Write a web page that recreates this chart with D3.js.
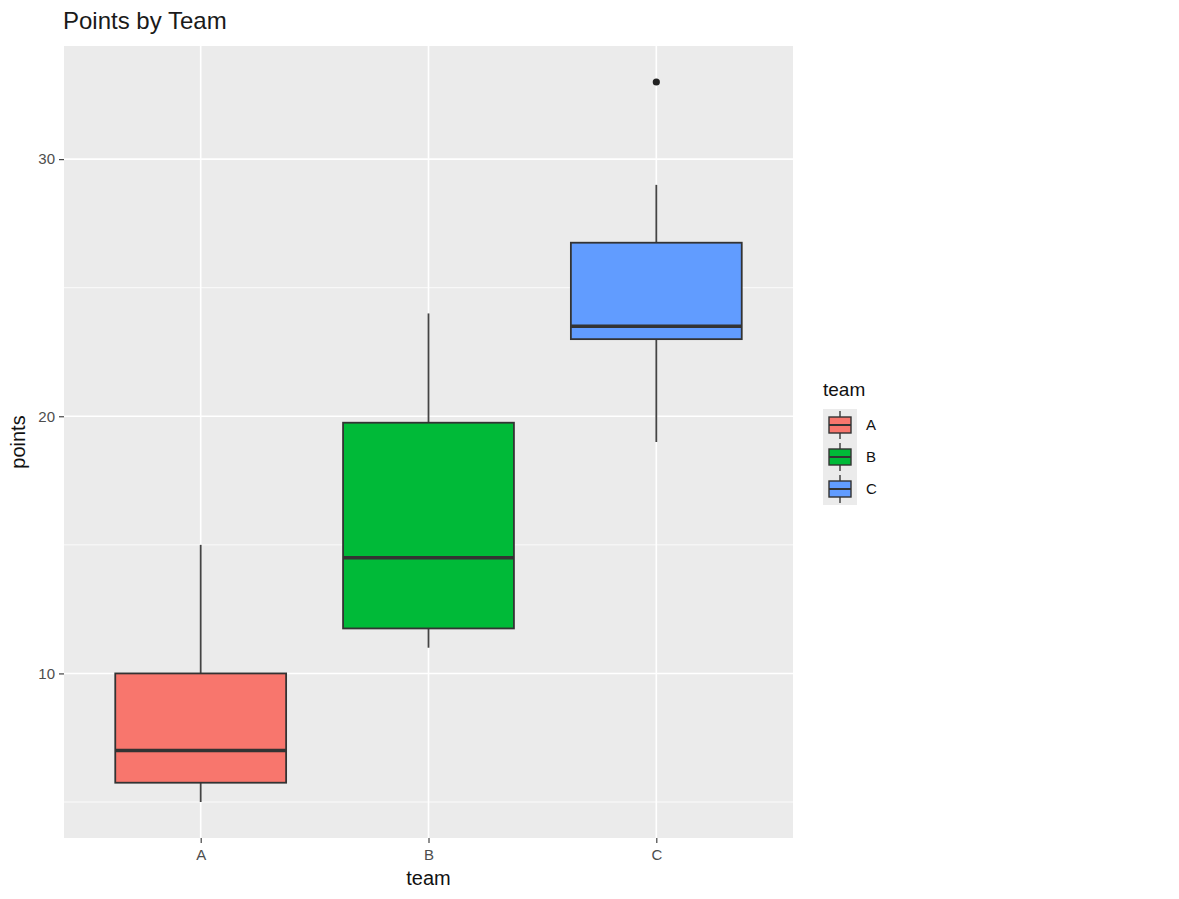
<!DOCTYPE html>
<html>
<head>
<meta charset="utf-8">
<script src="https://cdn.jsdelivr.net/npm/d3@7"></script>
<style>
  body { margin: 0; background: #fff; }
  svg { font-family: "Liberation Sans", Arial, sans-serif; }
</style>
</head>
<body>
<div id="chart"></div>
<script>
// box stats
const teams = ['A', 'B', 'C'];
const lowWhisker = [5, 11, 19];
const q1 = [5.75, 11.75, 23];
const median = [7, 14.5, 23.5];
const q3 = [10, 19.75, 26.75];
const highWhisker = [15, 24, 29];
const outliers = [{ team: 'C', value: 33 }];
const yTicks = [10, 20, 30];
const yMinor = [5, 15, 25];
const fills = ['#F8766D', '#00BA38', '#619CFF'];

const W = 1179, H = 899;
const P = { left: 64, right: 793, top: 46, bottom: 838 };

const svg = d3.select('#chart').append('svg').attr('width', W).attr('height', H);

// ggplot discrete: 0.6 units expansion each side
const xc = d3.scaleLinear().domain([0.4, 3.6]).range([P.left, P.right]);
const y = d3.scaleLinear().domain([3.6, 34.4]).range([P.bottom, P.top]);
const boxW = 0.75 * (xc(2) - xc(1));

svg.append('rect')
  .attr('x', P.left).attr('y', P.top)
  .attr('width', P.right - P.left).attr('height', P.bottom - P.top)
  .attr('fill', '#EBEBEB');

const grid = svg.append('g');
grid.selectAll('line.minor').data(yMinor).join('line')
  .attr('x1', P.left).attr('x2', P.right)
  .attr('y1', d => y(d)).attr('y2', d => y(d))
  .attr('stroke', '#fff').attr('stroke-width', 0.8);
grid.selectAll('line.major').data(yTicks).join('line')
  .attr('x1', P.left).attr('x2', P.right)
  .attr('y1', d => y(d)).attr('y2', d => y(d))
  .attr('stroke', '#fff').attr('stroke-width', 1.6);
grid.selectAll('line.vx').data(teams).join('line')
  .attr('x1', (d, i) => xc(i + 1)).attr('x2', (d, i) => xc(i + 1))
  .attr('y1', P.top).attr('y2', P.bottom)
  .attr('stroke', '#fff').attr('stroke-width', 1.6);

// axes
const yAxis = svg.append('g').attr('transform', `translate(${P.left},0)`)
  .call(d3.axisLeft(y).tickValues(yTicks).tickSize(5).tickPadding(4));
const xAxis = svg.append('g').attr('transform', `translate(0,${P.bottom})`)
  .call(d3.axisBottom(xc).tickValues([1, 2, 3]).tickFormat(d => teams[d - 1]).tickSize(5).tickPadding(6));
[yAxis, xAxis].forEach(a => {
  a.select('.domain').remove();
  a.selectAll('line').attr('stroke', '#333').attr('stroke-width', 1.1);
  a.selectAll('text').attr('fill', '#4D4D4D').style('font-size', '15px')
    .style('font-family', '"Liberation Sans", Arial, sans-serif');
});

// boxes
const boxes = svg.append('g').selectAll('g').data(teams).join('g');
boxes.append('line')
  .attr('x1', (d, i) => xc(i + 1)).attr('x2', (d, i) => xc(i + 1))
  .attr('y1', (d, i) => y(q3[i])).attr('y2', (d, i) => y(highWhisker[i]))
  .attr('stroke', '#444').attr('stroke-width', 1.8);
boxes.append('line')
  .attr('x1', (d, i) => xc(i + 1)).attr('x2', (d, i) => xc(i + 1))
  .attr('y1', (d, i) => y(q1[i])).attr('y2', (d, i) => y(lowWhisker[i]))
  .attr('stroke', '#444').attr('stroke-width', 1.8);
boxes.append('rect')
  .attr('x', (d, i) => xc(i + 1) - boxW / 2).attr('width', boxW)
  .attr('y', (d, i) => y(q3[i])).attr('height', (d, i) => y(q1[i]) - y(q3[i]))
  .attr('fill', (d, i) => fills[i]).attr('stroke', '#333').attr('stroke-width', 1.8);
boxes.append('line')
  .attr('x1', (d, i) => xc(i + 1) - boxW / 2).attr('x2', (d, i) => xc(i + 1) + boxW / 2)
  .attr('y1', (d, i) => y(median[i])).attr('y2', (d, i) => y(median[i]))
  .attr('stroke', '#333').attr('stroke-width', 3.4);

svg.append('g').selectAll('circle').data(outliers).join('circle')
  .attr('cx', d => xc(teams.indexOf(d.team) + 1)).attr('cy', d => y(d.value))
  .attr('r', 3.6).attr('fill', '#222');

// titles
svg.append('text').attr('x', 63).attr('y', 29)
  .style('font-size', '24px').attr('fill', '#1a1a1a').text('Points by Team');
svg.append('text').attr('x', (P.left + P.right) / 2).attr('y', 885)
  .attr('text-anchor', 'middle').style('font-size', '20px').attr('fill', '#111').text('team');
svg.append('text').attr('transform', `translate(25,${(P.top + P.bottom) / 2}) rotate(-90)`)
  .attr('text-anchor', 'middle').style('font-size', '20px').attr('fill', '#111').text('points');

// legend
const lg = svg.append('g').attr('transform', 'translate(823,0)');
lg.append('text').attr('x', 0).attr('y', 396).style('font-size', '19px').attr('fill', '#111').text('team');
const keyH = 32, keyW = 34, key0 = 409;
const items = lg.selectAll('g.item').data(teams).join('g')
  .attr('transform', (d, i) => `translate(0,${key0 + i * keyH})`);
items.append('rect').attr('width', keyW).attr('height', keyH).attr('fill', '#EBEBEB');
items.append('line').attr('x1', keyW / 2).attr('x2', keyW / 2).attr('y1', 2).attr('y2', keyH - 2)
  .attr('stroke', '#444').attr('stroke-width', 1.5);
items.append('rect').attr('x', 6).attr('width', keyW - 12).attr('y', 8).attr('height', keyH - 16)
  .attr('fill', (d, i) => fills[i]).attr('stroke', '#333').attr('stroke-width', 1.4);
items.append('line').attr('x1', 6).attr('x2', keyW - 6).attr('y1', keyH / 2).attr('y2', keyH / 2)
  .attr('stroke', '#333').attr('stroke-width', 2);
items.append('text').attr('x', keyW + 9).attr('y', keyH / 2 + 5)
  .style('font-size', '15px').attr('fill', '#111').text(d => d);
</script>
</body>
</html>
